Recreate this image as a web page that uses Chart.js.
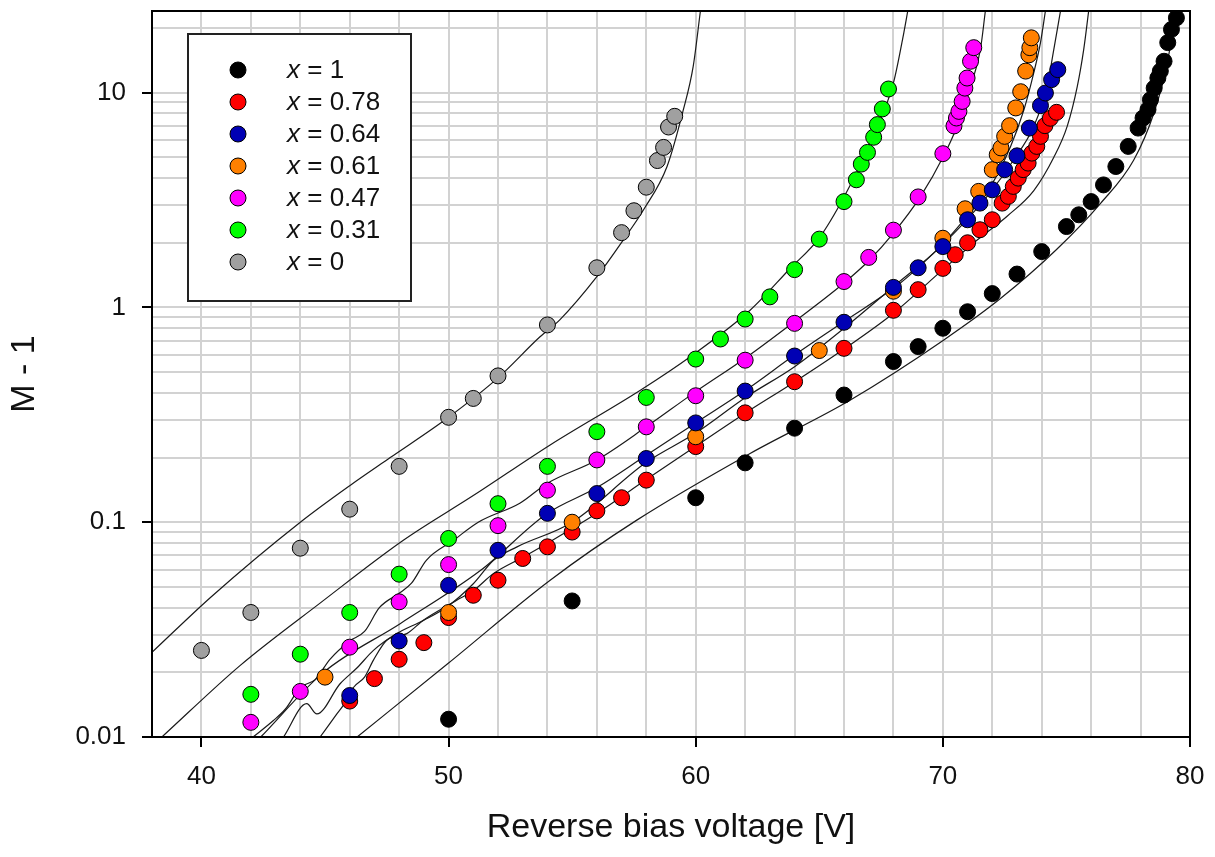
<!DOCTYPE html>
<html>
<head>
<meta charset="utf-8">
<script src="https://cdn.jsdelivr.net/npm/chart.js@4.4.1/dist/chart.umd.min.js"></script>
<style>
  body { margin: 0; background: #fff; }
</style>
</head>
<body>
<canvas id="gainChart" width="1215" height="857"></canvas>
<script>
// composition x of each sample (legend order)
const compositions = ['1', '0.78', '0.64', '0.61', '0.47', '0.31', '0'];

// measured points: reverse bias [V] -> M - 1
const voltsX100 = [50, 55, 60, 62, 64, 66, 68, 69, 70, 71, 72, 73, 74, 75, 75.5, 76, 76.5, 77, 77.5, 77.9, 78.1, 78.3, 78.4, 78.55, 78.7, 78.8, 78.95, 79.1, 79.25, 79.45];
const gainX100  = [0.0121, 0.043, 0.13, 0.189, 0.274, 0.391, 0.56, 0.657, 0.80, 0.955, 1.16, 1.43, 1.82, 2.38, 2.7, 3.11, 3.72, 4.53, 5.62, 6.84, 7.62, 8.34, 9.27, 10.5, 11.7, 12.6, 14.0, 17.1, 19.7, 22.3];

const voltsX078 = [46, 47, 48, 49, 50, 51, 52, 53, 54, 55, 56, 57, 58, 60, 62, 64, 66, 68, 69, 70, 70.5, 71, 71.5, 72, 72.4, 72.65, 72.85, 73.05, 73.25, 73.45, 73.6, 73.8, 73.95, 74.13, 74.35, 74.6];
const gainX078  = [0.0147, 0.0187, 0.023, 0.0275, 0.036, 0.0457, 0.0537, 0.0678, 0.0768, 0.090, 0.113, 0.13, 0.157, 0.225, 0.323, 0.451, 0.645, 0.97, 1.21, 1.52, 1.76, 2.0, 2.3, 2.56, 3.06, 3.29, 3.66, 4.0, 4.38, 4.7, 5.23, 5.62, 6.26, 7.02, 7.6, 8.1];

const voltsX064 = [46, 48, 50, 52, 54, 56, 58, 60, 62, 64, 66, 68, 69, 70, 71, 71.5, 72, 72.5, 73, 73.5, 73.95, 74.15, 74.4, 74.65];
const gainX064  = [0.0156, 0.028, 0.0508, 0.074, 0.110, 0.136, 0.198, 0.29, 0.408, 0.594, 0.853, 1.24, 1.53, 1.92, 2.56, 3.06, 3.53, 4.38, 5.08, 6.84, 8.7, 9.96, 11.5, 12.8];

const voltsX061 = [45, 50, 55, 60, 65, 68, 70, 70.9, 71.45, 72, 72.2, 72.35, 72.5, 72.7, 72.95, 73.15, 73.35, 73.48, 73.52, 73.58];
const gainX061  = [0.019, 0.038, 0.1, 0.25, 0.63, 1.19, 2.1, 2.88, 3.47, 4.38, 5.14, 5.53, 6.26, 7.02, 8.49, 10.1, 12.6, 15.0, 16.2, 18.0];

const voltsX047 = [42, 44, 46, 48, 50, 52, 54, 56, 58, 60, 62, 64, 66, 67, 68, 69, 70, 70.45, 70.55, 70.65, 70.78, 70.89, 70.98, 71.12, 71.25];
const gainX047  = [0.0117, 0.0163, 0.0262, 0.0426, 0.0635, 0.0964, 0.141, 0.195, 0.278, 0.388, 0.568, 0.843, 1.32, 1.71, 2.29, 3.27, 5.2, 7.0, 7.62, 8.18, 9.1, 10.5, 11.7, 14.0, 16.2];

const voltsX031 = [42, 44, 46, 48, 50, 52, 54, 56, 58, 60, 61, 62, 63, 64, 65, 66, 66.5, 66.7, 66.95, 67.2, 67.35, 67.55, 67.8];
const gainX031  = [0.0158, 0.0243, 0.038, 0.0573, 0.084, 0.122, 0.182, 0.264, 0.381, 0.575, 0.713, 0.883, 1.12, 1.50, 2.08, 3.11, 3.93, 4.65, 5.27, 6.2, 7.1, 8.4, 10.4];

const voltsX000 = [40, 42, 44, 46, 48, 50, 51, 52, 54, 56, 57, 57.5, 58, 58.45, 58.7, 58.9, 59.15];
const gainX000  = [0.0253, 0.038, 0.0757, 0.115, 0.182, 0.308, 0.377, 0.48, 0.829, 1.53, 2.23, 2.82, 3.63, 4.83, 5.56, 6.92, 7.76];

// model curves (thin black lines)
const fitVoltsX100 = [46.3, 50, 54.11, 57.6, 62.2, 66.26, 70.04, 72.33, 74.6, 76.39, 77.73, 78.54, 79.08, 79.42];
const fitGainX100  = [0.01, 0.0221, 0.0537, 0.102, 0.209, 0.371, 0.706, 1.1, 1.86, 3.06, 4.87, 8.04, 13.7, 24];

const fitVoltsX078 = [44.8, 45.48, 45.88, 46.15, 46.6, 46.96, 47.5, 48.31, 48.98, 50.33, 51, 51.82, 53.03, 53.98, 56, 58, 60, 62, 64, 66, 68, 70, 71.39, 72.6, 73.68, 74.49, 75.03, 75.44, 75.7, 75.9];
const fitGainX078  = [0.01, 0.0128, 0.0148, 0.017, 0.019, 0.0228, 0.0282, 0.0303, 0.035, 0.0433, 0.048, 0.0577, 0.0689, 0.0796, 0.11, 0.158, 0.226, 0.322, 0.45, 0.64, 0.94, 1.5, 2.06, 2.66, 3.5, 5.0, 6.97, 10.7, 15.9, 24];

const fitVoltsX064 = [42.4, 44.94, 48.04, 51.3, 54, 56, 58, 60, 62, 64, 66, 68.28, 69.63, 70.71, 71.79, 72.87, 73.68, 74.22, 74.49, 74.76];
const fitGainX064  = [0.01, 0.02, 0.0337, 0.0597, 0.11, 0.145, 0.205, 0.29, 0.41, 0.6, 0.86, 1.30, 1.79, 2.38, 3.29, 4.87, 6.97, 10.7, 15.9, 24];

const fitVoltsX061 = [43.32, 44.26, 44.67, 45.61, 46.3, 46.96, 47.9, 48.98, 49.93, 51, 51.82, 52.77, 55, 58, 60, 62, 64, 66, 68, 69.9, 70.98, 71.93, 72.74, 73.28, 73.68, 73.95, 74.15];
const fitGainX061  = [0.01, 0.0143, 0.0128, 0.0177, 0.021, 0.0253, 0.0303, 0.0349, 0.0403, 0.0517, 0.0665, 0.0768, 0.1, 0.19, 0.26, 0.38, 0.53, 0.8, 1.25, 1.92, 2.66, 3.66, 5.62, 8.33, 12.4, 17.1, 24];

const fitVoltsX047 = [42.09, 42.9, 43.4, 44, 44.6, 45.2, 46, 46.6, 47.2, 48, 48.5, 49.1, 50.2, 51.2, 52.9, 54, 56, 58, 59.9, 62, 64, 66, 67, 68, 69.1, 70.04, 70.58, 71.1, 71.52, 71.72];
const fitGainX047  = [0.01, 0.0119, 0.0135, 0.017, 0.0185, 0.023, 0.028, 0.031, 0.040, 0.0467, 0.052, 0.0665, 0.0824, 0.1, 0.123, 0.152, 0.195, 0.278, 0.398, 0.58, 0.86, 1.3, 1.65, 2.22, 3.29, 5.1, 7.0, 10.5, 15.9, 24];

const fitVoltsX031 = [38.4, 41.56, 44.8, 48.17, 51, 54.11, 57.76, 59.78, 62.2, 63.8, 65, 66, 67.07, 68, 68.42, 68.58];
const fitGainX031  = [0.01, 0.0215, 0.042, 0.0824, 0.133, 0.229, 0.412, 0.59, 0.97, 1.51, 2.11, 3.27, 5.85, 11.1, 19, 24];

const fitVoltsX000 = [38, 40.4, 44, 46, 47.64, 49.93, 52, 53.7, 54.5, 56, 57.08, 57.89, 58.84, 59.5, 59.9, 60.19];
const fitGainX000  = [0.0248, 0.045, 0.1, 0.148, 0.2, 0.304, 0.47, 0.73, 0.875, 1.39, 2.07, 2.85, 4.53, 8.33, 13.3, 24];

// axes
const xGridValues = [40, 42, 44, 46, 48, 50, 52, 54, 56, 58, 60, 62, 64, 66, 68, 70, 72, 74, 76, 78, 80];
const xTickLabels = ['40', '50', '60', '70', '80'];
const yGridValues = [0.01, 0.02, 0.03, 0.04, 0.05, 0.06, 0.07, 0.08, 0.09,
                     0.1, 0.2, 0.3, 0.4, 0.5, 0.6, 0.7, 0.8, 0.9,
                     1, 2, 3, 4, 5, 6, 7, 8, 9, 10, 20];
const yTickLabels = ['0.01', '0.1', '1', '10'];

const pointColors = ['#000000', '#ff0000', '#0000b4', '#ff8000', '#ff00ff', '#00ff00', '#a0a0a0'];
const drawOrder = [7, 3, 1, 2, 5, 6, 4]; // blue over orange over red

const series = [
  [voltsX100, gainX100, fitVoltsX100, fitGainX100],
  [voltsX078, gainX078, fitVoltsX078, fitGainX078],
  [voltsX064, gainX064, fitVoltsX064, fitGainX064],
  [voltsX061, gainX061, fitVoltsX061, fitGainX061],
  [voltsX047, gainX047, fitVoltsX047, fitGainX047],
  [voltsX031, gainX031, fitVoltsX031, fitGainX031],
  [voltsX000, gainX000, fitVoltsX000, fitGainX000]
];

const zip = (xs, ys) => xs.map((x, i) => ({ x: x, y: ys[i] }));

const datasets = [];
series.forEach((s, i) => {
  datasets.push({
    type: 'line',
    label: 'fit x = ' + compositions[i],
    data: zip(s[2], s[3]),
    borderColor: '#1a1a1a',
    borderWidth: 1.2,
    pointRadius: 0,
    fill: false,
    cubicInterpolationMode: 'monotone',
    order: 100
  });
  datasets.push({
    type: 'scatter',
    label: 'x = ' + compositions[i],
    data: zip(s[0], s[1]),
    backgroundColor: pointColors[i],
    borderColor: '#000',
    borderWidth: 1,
    pointRadius: 8,
    order: drawOrder[i]
  });
});

const FONT = '"Liberation Sans", Arial, sans-serif';

const frame = {
  id: 'frame',
  afterDraw(chart) {
    const { ctx, chartArea: a } = chart;
    ctx.save();
    ctx.strokeStyle = '#000';
    ctx.lineWidth = 2;
    ctx.strokeRect(a.left, a.top, a.right - a.left, a.bottom - a.top);

    // legend box
    ctx.fillStyle = '#fff';
    ctx.fillRect(188, 34, 223, 267);
    ctx.strokeStyle = '#222';
    ctx.strokeRect(188, 34, 223, 267);
    compositions.forEach((c, i) => {
      const y = 70 + i * 32;
      ctx.beginPath();
      ctx.arc(238, y, 8, 0, Math.PI * 2);
      ctx.fillStyle = pointColors[i];
      ctx.fill();
      ctx.lineWidth = 1;
      ctx.strokeStyle = '#000';
      ctx.stroke();
      ctx.fillStyle = '#111';
      ctx.textBaseline = 'middle';
      ctx.font = 'italic 26px ' + FONT;
      ctx.fillText('x', 287, y + 1);
      const w = ctx.measureText('x').width;
      ctx.font = '26px ' + FONT;
      ctx.fillText(' = ' + c, 287 + w, y + 1);
    });
    ctx.restore();
  }
};

new Chart(document.getElementById('gainChart'), {
  type: 'scatter',
  data: { datasets: datasets },
  options: {
    responsive: false,
    animation: false,
    devicePixelRatio: 1,
    layout: { padding: { top: 11, right: 25, left: 0, bottom: 0 } },
    plugins: { legend: { display: false }, tooltip: { enabled: false } },
    scales: {
      x: {
        type: 'linear',
        min: 38,
        max: 80,
        afterBuildTicks: s => { s.ticks = xGridValues.map(v => ({ value: v })); },
        afterFit: s => { s.height = 120; s.paddingLeft = 0; s.paddingRight = 0; },
        ticks: {
          autoSkip: false,
          maxRotation: 0,
          padding: 14,
          color: '#111',
          font: { family: FONT, size: 26 },
          callback: v => xTickLabels.includes(String(v)) ? String(v) : ''
        },
        grid: {
          color: '#d2d2d2',
          lineWidth: 2,
          tickLength: 10,
          tickColor: c => xTickLabels.includes(String(c.tick.value)) ? '#000' : 'rgba(0,0,0,0)',
          tickWidth: 2
        },
        border: { display: true, color: '#000', width: 2 },
        title: {
          display: true,
          text: 'Reverse bias voltage [V]',
          color: '#111',
          font: { family: FONT, size: 34 },
          padding: { top: 0, bottom: 9 }
        }
      },
      y: {
        type: 'logarithmic',
        min: 0.01,
        max: 24,
        afterBuildTicks: s => { s.ticks = yGridValues.map(v => ({ value: v })); },
        afterFit: s => { s.width = 152; s.paddingTop = 0; s.paddingBottom = 0; },
        ticks: {
          autoSkip: false,
          padding: 16,
          color: '#111',
          font: { family: FONT, size: 26 },
          callback: v => yTickLabels.includes(String(v)) ? String(v) : ''
        },
        grid: {
          color: '#d2d2d2',
          lineWidth: 2,
          tickLength: 10,
          tickColor: c => yTickLabels.includes(String(c.tick.value)) ? '#000' : 'rgba(0,0,0,0)',
          tickWidth: 2
        },
        border: { display: true, color: '#000', width: 2 },
        title: {
          display: true,
          text: 'M - 1',
          color: '#111',
          font: { family: FONT, size: 34 },
          padding: { top: 4, bottom: 0 }
        }
      }
    }
  },
  plugins: [frame]
});
</script>
</body>
</html>
